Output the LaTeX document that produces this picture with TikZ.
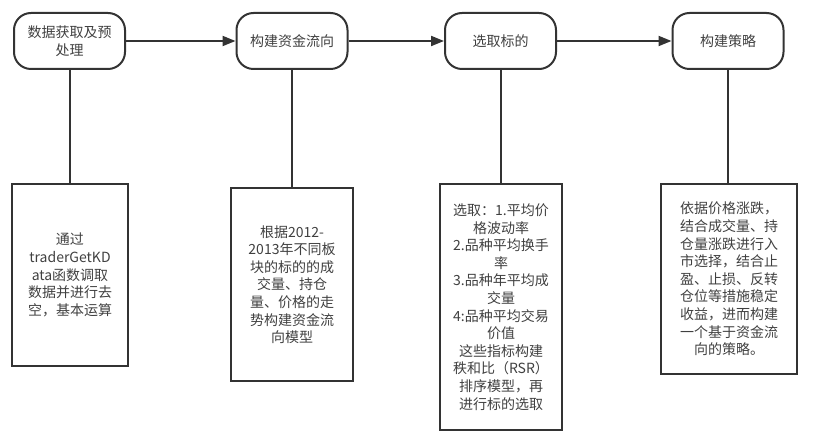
\documentclass[tikz,border=0pt]{standalone}
\usepackage{fontspec}
\setmainfont{Noto Sans CJK SC}
\usetikzlibrary{arrows.meta}
\definecolor{ink}{HTML}{333333}
\definecolor{txt}{HTML}{404040}
\tikzset{
  stage/.style={draw=ink, line width=2pt, rounded corners=17pt, minimum width=111pt, minimum height=56pt, inner sep=0pt, align=center, text=txt, font=\fontsize{14}{17.6}\selectfont},
  detail/.style={draw=ink, line width=2pt, inner sep=0pt, align=center, text=txt, font=\fontsize{14}{17.6}\selectfont},
  flow/.style={draw=ink, line width=2pt, -{Triangle[length=13pt,width=10pt]}},
  link/.style={draw=ink, line width=2pt}
}
\begin{document}
\begin{tikzpicture}[x=1pt,y=-1pt]
\useasboundingbox (0,0) rectangle (820,446);
\node[stage] (s1) at (69.5,41) {数据获取及预\\处理};
\node[stage] (s2) at (292,41) {构建资金流向};
\node[stage] (s3) at (500.5,41) {选取标的};
\node[stage] (s4) at (728,41) {构建策略};
\node[detail, minimum width=116pt, minimum height=182pt] (d1) at (70,275) {通过\\traderGetKD\\ata函数调取\\数据并进行去\\空，基本运算};
\node[detail, minimum width=122pt, minimum height=193pt] (d2) at (292,284.5) {根据2012-\\2013年不同板\\块的标的的成\\交量、持仓\\量、价格的走\\势构建资金流\\向模型};
\node[detail, minimum width=122pt, minimum height=246pt] (d3) at (501,307) {选取：1.平均价\\格波动率\\2.品种平均换手\\率\\3.品种年平均成\\交量\\4:品种平均交易\\价值\\这些指标构建\\秩和比（RSR）\\排序模型，再\\进行标的选取};
\node[detail, minimum width=136pt, minimum height=190pt] (d4) at (729,279) {依据价格涨跌，\\结合成交量、持\\仓量涨跌进行入\\市选择，结合止\\盈、止损、反转\\仓位等措施稳定\\收益，进而构建\\一个基于资金流\\向的策略。};
\draw[flow] (s1) -- (s2);
\draw[flow] (s2) -- (s3);
\draw[flow] (s3) -- (s4);
\draw[link] (s1.south) -- (s1.south |- d1.north);
\draw[link] (s2.south) -- (s2.south |- d2.north);
\draw[link] (s3.south) -- (s3.south |- d3.north);
\draw[link] (s4.south) -- (s4.south |- d4.north);
\end{tikzpicture}
\end{document}
